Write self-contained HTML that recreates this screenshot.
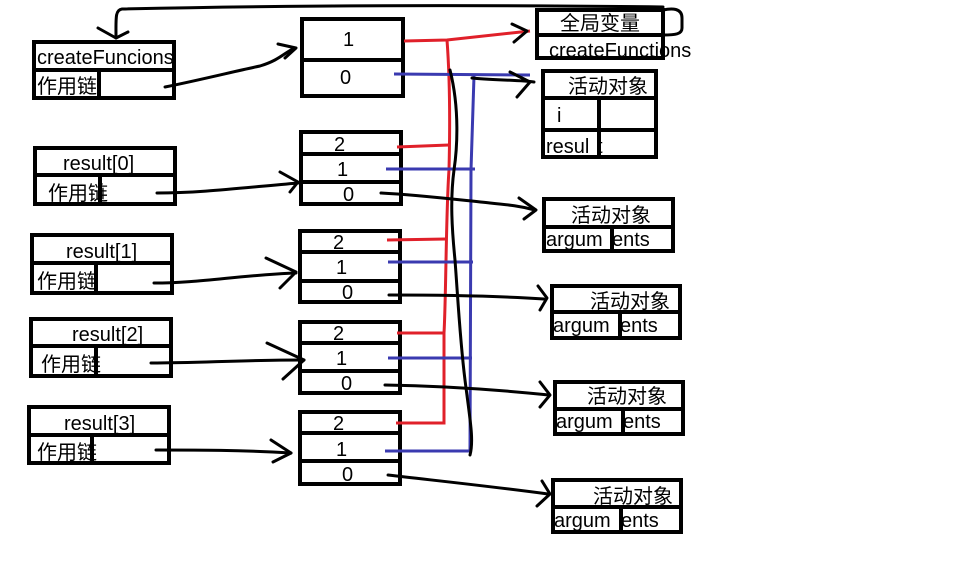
<!DOCTYPE html>
<html><head><meta charset="utf-8"><style>
html,body{margin:0;padding:0;background:#fff;}
svg{display:block;}
text{font-family:"Liberation Sans","Noto Sans CJK SC",sans-serif;font-size:20px;fill:#000;}
.b{fill:none;stroke:#000;stroke-width:4;}
.l{fill:none;stroke:#000;stroke-width:3;stroke-linecap:round;stroke-linejoin:round;}
.r{fill:none;stroke:#e0202a;stroke-width:3;}
.u{fill:none;stroke:#3a3ab0;stroke-width:3;}
</style></head><body>
<svg width="955" height="569" viewBox="0 0 955 569" xmlns="http://www.w3.org/2000/svg">
<rect class="b" x="34" y="42" width="140" height="56"/><line class="b" x1="34" y1="70" x2="174" y2="70"/><line class="b" x1="99" y1="70" x2="99" y2="99"/>
<text x="37" y="64">createFuncions</text><text x="37" y="93">作用链</text>
<rect class="b" x="35" y="148" width="140" height="56"/><line class="b" x1="35" y1="175" x2="175" y2="175"/><line class="b" x1="100" y1="175" x2="100" y2="206"/>
<text x="63" y="170">result[0]</text><text x="48" y="200">作用链</text>
<rect class="b" x="32" y="235" width="140" height="58"/><line class="b" x1="32" y1="263" x2="172" y2="263"/><line class="b" x1="96" y1="263" x2="96" y2="294"/>
<text x="66" y="258">result[1]</text><text x="37" y="288">作用链</text>
<rect class="b" x="31" y="319" width="140" height="57"/><line class="b" x1="31" y1="346" x2="171" y2="346"/><line class="b" x1="96" y1="346" x2="96" y2="378"/>
<text x="72" y="341">result[2]</text><text x="41" y="371">作用链</text>
<rect class="b" x="29" y="407" width="140" height="56"/><line class="b" x1="29" y1="435" x2="169" y2="435"/><line class="b" x1="92" y1="435" x2="92" y2="465"/>
<text x="64" y="430">result[3]</text><text x="37" y="459">作用链</text>
<rect class="b" x="302" y="19" width="101" height="77"/><line class="b" x1="302" y1="60" x2="403" y2="60"/>
<text x="343" y="46">1</text><text x="340" y="84">0</text>
<rect class="b" x="301" y="132" width="100" height="72"/><line class="b" x1="301" y1="154" x2="401" y2="154"/><line class="b" x1="301" y1="182" x2="401" y2="182"/>
<text x="334" y="151">2</text><text x="337" y="176">1</text><text x="343" y="201">0</text>
<rect class="b" x="300" y="231" width="100" height="71"/><line class="b" x1="300" y1="252" x2="400" y2="252"/><line class="b" x1="300" y1="281" x2="400" y2="281"/>
<text x="333" y="249">2</text><text x="336" y="274">1</text><text x="342" y="299">0</text>
<rect class="b" x="300" y="322" width="100" height="71"/><line class="b" x1="300" y1="343" x2="400" y2="343"/><line class="b" x1="300" y1="371" x2="400" y2="371"/>
<text x="333" y="340">2</text><text x="336" y="365">1</text><text x="341" y="390">0</text>
<rect class="b" x="300" y="412" width="100" height="72"/><line class="b" x1="300" y1="433" x2="400" y2="433"/><line class="b" x1="300" y1="461" x2="400" y2="461"/>
<text x="333" y="430">2</text><text x="336" y="456">1</text><text x="342" y="481">0</text>
<rect class="b" x="537" y="10" width="126" height="48"/><line class="b" x1="537" y1="35" x2="663" y2="35"/>
<text x="560" y="30">全局变量</text><text x="549" y="57">createFunctions</text>
<rect class="b" x="543" y="71" width="113" height="86"/><line class="b" x1="543" y1="98" x2="656" y2="98"/><line class="b" x1="543" y1="130" x2="656" y2="130"/><line class="b" x1="599" y1="98" x2="599" y2="157"/>
<text x="568" y="93">活动对象</text><text x="557" y="122">i</text><text x="546" y="153">resul</text><text x="597" y="153">t</text>
<rect class="b" x="544" y="199" width="129" height="52"/><line class="b" x1="544" y1="227" x2="673" y2="227"/><line class="b" x1="612" y1="227" x2="612" y2="251"/>
<text x="571" y="222">活动对象</text><text x="546" y="246">argum</text><text x="612" y="246">ents</text>
<rect class="b" x="552" y="286" width="128" height="52"/><line class="b" x1="552" y1="312" x2="680" y2="312"/><line class="b" x1="620" y1="312" x2="620" y2="338"/>
<text x="590" y="308">活动对象</text><text x="553" y="332">argum</text><text x="620" y="332">ents</text>
<rect class="b" x="555" y="382" width="128" height="52"/><line class="b" x1="555" y1="409" x2="683" y2="409"/><line class="b" x1="623" y1="409" x2="623" y2="434"/>
<text x="587" y="403">活动对象</text><text x="556" y="428">argum</text><text x="623" y="428">ents</text>
<rect class="b" x="553" y="480" width="128" height="52"/><line class="b" x1="553" y1="507" x2="681" y2="507"/><line class="b" x1="621" y1="507" x2="621" y2="532"/>
<text x="593" y="503">活动对象</text><text x="554" y="527">argum</text><text x="621" y="527">ents</text>
<path class="l" d="M663,10 C672,8 682,8 682,18 L682,28 C682,34 676,35 663,35"/>
<path class="l" d="M663,7 C500,5 300,5 122,9 C115,10 116,18 116,38"/>
<path class="l" d="M98,28 L116,38 L128,32"/>
<path class="l" d="M165,87 C200,80 240,70 260,66 C280,60 285,52 295,48"/><path class="l" d="M278,44 L296,48 L285,58"/>
<path class="l" d="M157,193 C200,193 240,188 298,183"/><path class="l" d="M280,172 L298,182 L290,192"/>
<path class="l" d="M154,283 C200,283 240,275 296,273"/><path class="l" d="M266,258 L296,272 L280,288"/>
<path class="l" d="M151,363 C200,363 240,360 304,360"/><path class="l" d="M267,343 L304,360 L283,379"/>
<path class="l" d="M156,450 C200,450 240,450 291,453"/><path class="l" d="M271,440 L291,453 L273,462"/>
<path class="r" d="M404,41 L447,40 L530,31"/><path class="l" d="M512,24 L527,31 L514,42"/>
<path class="r" d="M447,40 C450,80 450,130 449,170 C446,210 446,300 444,333 L444,423 L396,423"/>
<path class="r" d="M397,147 L449,145"/><path class="r" d="M387,240 L446,239"/><path class="r" d="M397,333 L444,333"/>
<path class="u" d="M394,74 L530,75"/><path class="u" d="M474,76 L471,170 L470,451 L385,451"/>
<path class="u" d="M386,169 L475,169"/><path class="u" d="M388,262 L473,262"/><path class="u" d="M388,358 L472,358"/>
<path class="l" d="M450,70 C460,110 457,150 454,170 C450,200 452,230 455,260 C458,300 460,340 465,380 C470,420 474,440 470,455"/>
<path class="l" d="M510,72 L530,82 L517,97"/><path class="l" d="M472,78 C490,80 520,80 534,82"/>
<path class="l" d="M381,193 C420,195 460,200 490,203 C510,205 520,206 535,210"/><path class="l" d="M519,198 L536,210 L524,219"/>
<path class="l" d="M389,295 C450,295 500,296 544,299"/><path class="l" d="M538,286 L547,298 L540,310"/>
<path class="l" d="M385,385 C450,386 500,390 549,395"/><path class="l" d="M540,382 L550,395 L540,407"/>
<path class="l" d="M388,475 C430,480 480,485 548,494"/><path class="l" d="M542,481 L550,494 L537,506"/>
</svg>
</body></html>
